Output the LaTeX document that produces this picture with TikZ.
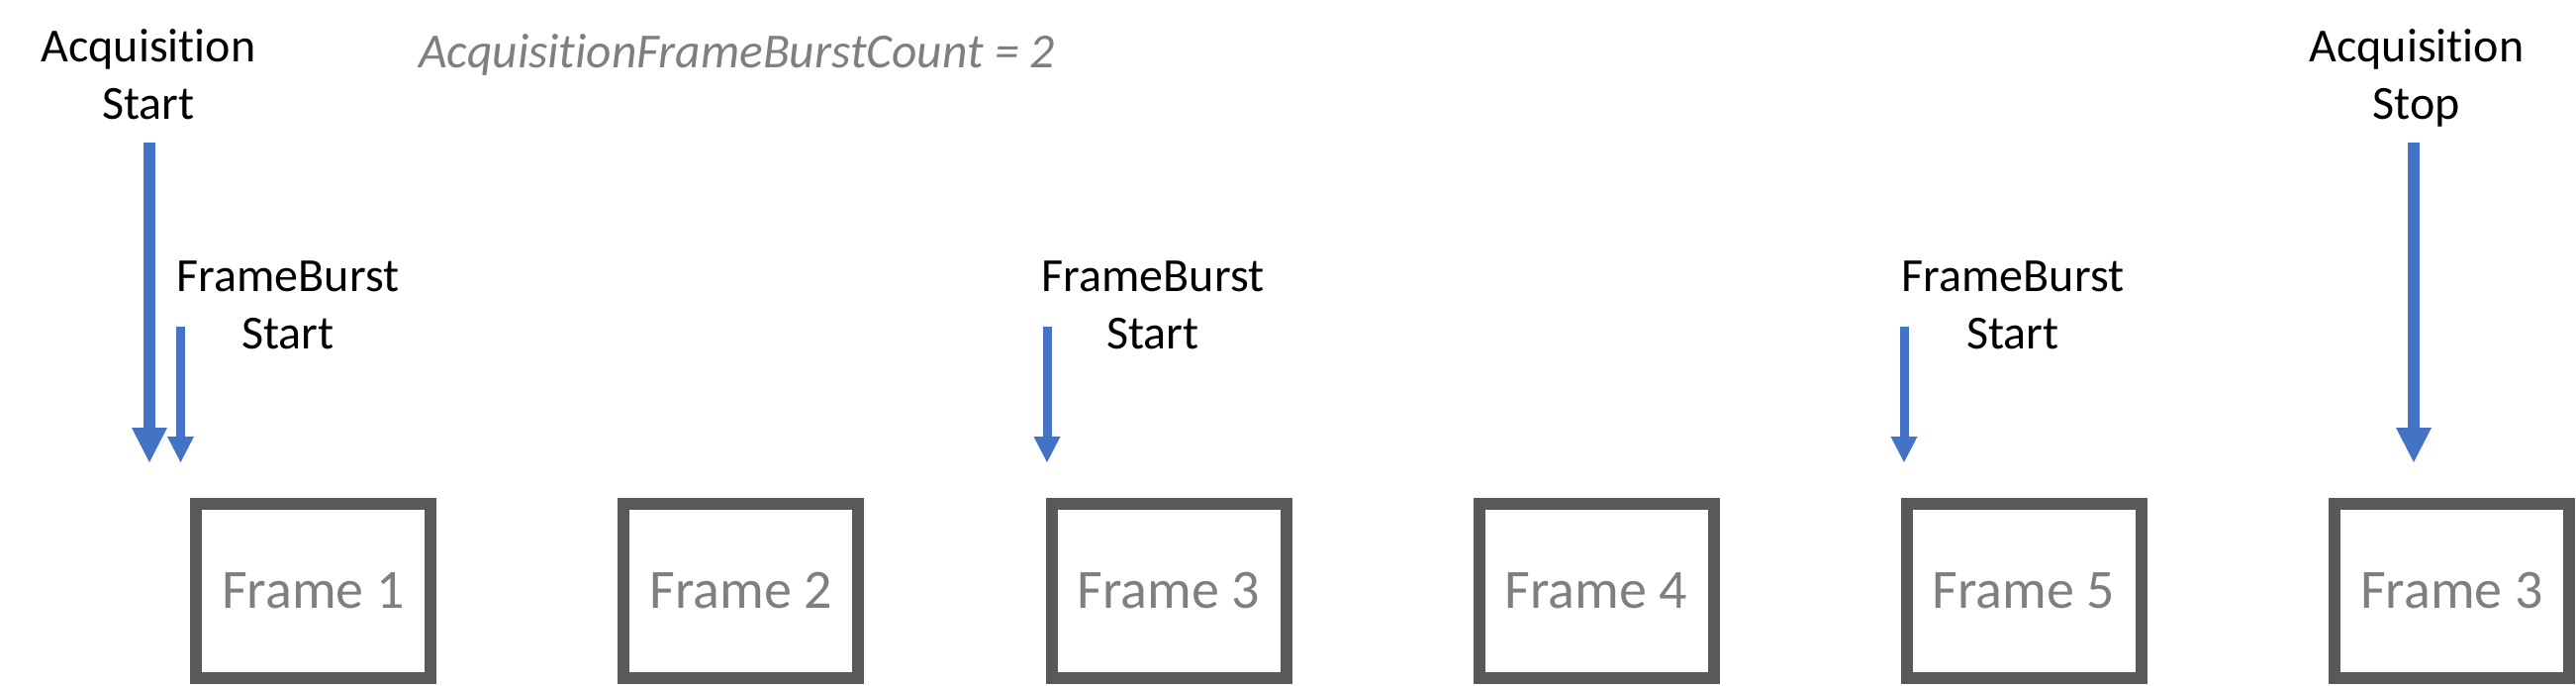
\documentclass[tikz,border=0pt]{standalone}
\usepackage{fontspec}
\setmainfont{Carlito}[Ligatures=NoCommon]
\usetikzlibrary{arrows.meta}
\definecolor{arrowBlue}{HTML}{4472C4}
\definecolor{boxGray}{HTML}{595959}
\definecolor{txtGray}{HTML}{7F7F7F}
\tikzset{
  lbl/.style={align=center, inner sep=0pt, anchor=base, font=\fontsize{48}{58}\selectfont, text=black},
  framebox/.style={draw=boxGray, line width=12pt, minimum width=237pt, minimum height=176pt, inner sep=0pt, text=txtGray, font=\fontsize{56}{60}\selectfont},
  bigarrow/.style={draw=arrowBlue, line width=12pt, -{Triangle[width=36pt,length=35pt,line width=0pt]}},
  smallarrow/.style={draw=arrowBlue, line width=9pt, -{Triangle[width=27pt,length=26pt,line width=0pt]}},
  note/.style={inner sep=0pt, anchor=base west, text=txtGray, font=\fontsize{49.5}{58}\selectfont\itshape}
}
\begin{document}
\begin{tikzpicture}[x=1pt,y=-1pt]
\useasboundingbox (0,0) rectangle (2603,693);
% labels (anchor = baseline of the last line)
\node[lbl] (acqstart) at (150,120) {Acquisition\\Start};
\node[note] (count) at (423,69) {AcquisitionFrameBurstCount = 2};
\node[lbl] (fbs1) at (291,352) {FrameBurst\\Start};
\node[lbl] (fbs2) at (1165,352) {FrameBurst\\Start};
\node[lbl] (fbs3) at (2034,352) {FrameBurst\\Start};
\node[lbl] (acqstop) at (2442,120) {Acquisition\\Stop};
% arrow endpoints
\coordinate (as0) at (151,144);
\coordinate (as1) at (151,467);
\coordinate (b10) at (182.5,330);
\coordinate (b11) at (182.5,467);
\coordinate (b20) at (1058,330);
\coordinate (b21) at (1058,467);
\coordinate (b30) at (1924,330);
\coordinate (b31) at (1924,467);
\coordinate (ae0) at (2439,144);
\coordinate (ae1) at (2439,467);
\draw[bigarrow] (as0) -- (as1);
\draw[smallarrow] (b10) -- (b11);
\draw[smallarrow] (b20) -- (b21);
\draw[smallarrow] (b30) -- (b31);
\draw[bigarrow] (ae0) -- (ae1);
% frames
\node[framebox] (f1) at (316.5,597) {Frame 1};
\node[framebox] (f2) at (748.7,597) {Frame 2};
\node[framebox] (f3) at (1181,597) {Frame 3};
\node[framebox] (f4) at (1613,597) {Frame 4};
\node[framebox] (f5) at (2045,597) {Frame 5};
\node[framebox] (f6) at (2477.5,597) {Frame 3};
\end{tikzpicture}
\end{document}
